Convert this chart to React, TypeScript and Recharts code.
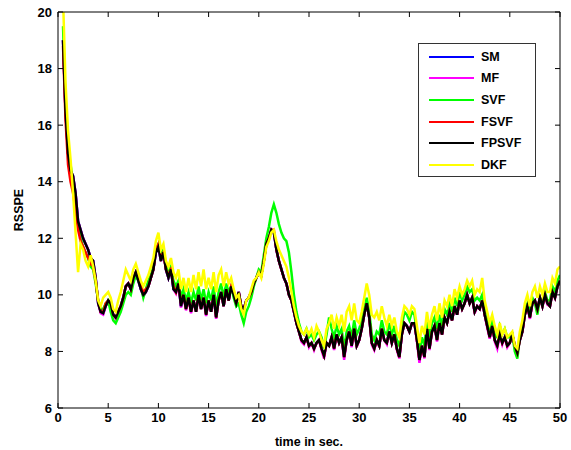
import { LineChart, Line, XAxis, YAxis, Legend } from "recharts";

// sampled every 0.25 s starting at t = 0.5
const FPSVF = [
  19.0, 16.5,
  15.0, 14.4, 14.2, 13.6,
  12.6, 12.3, 12.0, 11.8,
  11.6, 11.3, 11.2, 10.6,
  9.7, 9.4, 9.35, 9.6,
  9.8, 9.7, 9.3, 9.2,
  9.4, 9.6, 9.9, 10.3,
  10.4, 10.2, 10.6, 10.8,
  10.5, 10.2, 10.0, 10.1,
  10.3, 10.6, 10.9, 11.5,
  11.7, 11.2, 11.5, 10.9,
  10.6, 10.9, 10.2, 10.1,
  10.4, 9.6, 10.0, 9.5,
  9.9, 9.4, 9.8, 9.4,
  10.0, 9.5, 9.9, 9.3,
  9.8, 9.4, 10.0, 9.2,
  9.8, 10.1, 9.6, 10.2,
  9.8, 10.3, 10.0, 9.7,
  10.1, 9.6, 9.5, 9.8,
  9.9, 10.1, 10.4, 10.6,
  10.8, 10.7, 11.2, 11.8,
  12.0, 12.3, 12.2, 11.6,
  11.2, 10.9, 10.6, 10.4,
  10.0, 9.8, 9.4, 9.0,
  8.7, 8.4, 8.3, 8.5,
  8.2, 8.3, 8.1, 8.3,
  8.4, 8.1, 7.85, 8.3,
  8.2, 8.5, 8.1, 8.6,
  8.3, 8.5, 7.8, 8.4,
  8.7, 8.2, 8.8, 8.2,
  8.4, 8.8, 9.3, 9.7,
  9.2, 8.3, 8.1, 8.4,
  8.2, 8.8, 8.4, 8.3,
  8.7, 8.3, 8.6, 8.1,
  7.8, 8.6, 9.0, 8.9,
  8.7, 9.0, 9.0, 8.4,
  7.7, 8.2, 7.8, 8.8,
  8.1, 8.7, 8.9, 8.4,
  9.0, 8.6, 9.2, 9.0,
  9.4, 9.1, 9.6, 9.3,
  9.8, 9.5, 9.7, 10.0,
  9.7, 9.9, 9.4, 9.6,
  9.5, 9.8, 9.3, 8.9,
  8.5, 8.9, 8.4, 8.2,
  8.6, 8.3, 8.5, 8.2,
  8.3, 8.6, 8.2, 7.95,
  8.4, 8.7, 9.3, 9.6,
  9.2, 9.7, 9.8, 9.5,
  9.9, 9.6, 10.0, 9.7,
  9.6, 10.1, 9.9, 10.3,
  10.5,
];

const SM = [
  19.0, 16.5,
  15.0, 14.4, 14.2, 13.6,
  12.6, 12.3, 12.0, 11.8,
  11.6, 11.3, 11.2, 10.6,
  9.7, 9.4, 9.35, 9.6,
  9.8, 9.7, 9.3, 9.2,
  9.4, 9.6, 9.9, 10.3,
  10.4, 10.2, 10.6, 10.8,
  10.5, 10.2, 10.0, 10.1,
  10.3, 10.6, 10.9, 11.5,
  11.7, 11.2, 11.5, 10.9,
  10.6, 10.9, 10.2, 10.1,
  10.4, 9.6, 10.0, 9.5,
  9.9, 9.4, 9.8, 9.4,
  10.0, 9.5, 9.9, 9.3,
  9.8, 9.4, 10.0, 9.2,
  9.8, 10.1, 9.6, 10.2,
  9.8, 10.3, 10.0, 9.7,
  10.1, 9.6, 9.5, 9.8,
  9.9, 10.1, 10.4, 10.6,
  10.8, 10.7, 11.2, 11.8,
  12.0, 12.3, 12.2, 11.6,
  11.2, 10.9, 10.6, 10.4,
  10.0, 9.8, 9.4, 9.0,
  8.7, 8.4, 8.3, 8.5,
  8.2, 8.3, 8.1, 8.3,
  8.4, 8.1, 7.85, 8.3,
  8.2, 8.5, 8.1, 8.6,
  8.3, 8.5, 7.8, 8.4,
  8.7, 8.2, 8.8, 8.2,
  8.4, 8.8, 9.3, 9.7,
  9.2, 8.3, 8.1, 8.4,
  8.2, 8.8, 8.4, 8.3,
  8.7, 8.3, 8.6, 8.1,
  7.8, 8.6, 9.0, 8.9,
  8.7, 9.0, 9.0, 8.4,
  7.7, 8.2, 7.8, 8.8,
  8.1, 8.7, 8.9, 8.4,
  9.0, 8.6, 9.2, 9.0,
  9.4, 9.1, 9.6, 9.3,
  9.8, 9.5, 9.7, 10.0,
  9.7, 9.9, 9.4, 9.6,
  9.5, 9.8, 9.3, 8.9,
  8.5, 8.9, 8.4, 8.2,
  8.6, 8.3, 8.5, 8.2,
  8.3, 8.6, 8.2, 7.95,
  8.4, 8.7, 9.3, 9.6,
  9.2, 9.7, 9.8, 9.5,
  9.9, 9.6, 10.0, 9.7,
  9.6, 10.1, 9.9, 10.3,
  10.5,
];

const MF = [
  19.0, 16.5,
  15.0, 14.4, 14.2, 13.6,
  12.6, 12.3, 12.0, 11.8,
  11.6, 11.3, 11.2, 10.6,
  9.7, 9.35, 9.3, 9.6,
  9.8, 9.7, 9.3, 9.15,
  9.4, 9.6, 9.9, 10.3,
  10.4, 10.2, 10.6, 10.8,
  10.5, 10.2, 9.95, 10.1,
  10.3, 10.6, 10.9, 11.5,
  11.7, 11.2, 11.5, 10.9,
  10.6, 10.9, 10.2, 10.05,
  10.4, 9.55, 10.0, 9.45,
  9.9, 9.35, 9.8, 9.4,
  10.0, 9.5, 9.9, 9.25,
  9.8, 9.4, 10.0, 9.15,
  9.8, 10.1, 9.6, 10.2,
  9.8, 10.3, 10.0, 9.65,
  10.1, 9.6, 9.45, 9.8,
  9.9, 10.1, 10.4, 10.6,
  10.8, 10.7, 11.2, 11.8,
  12.0, 12.3, 12.2, 11.6,
  11.2, 10.9, 10.6, 10.4,
  10.0, 9.8, 9.4, 9.0,
  8.7, 8.35, 8.25, 8.5,
  8.15, 8.3, 8.05, 8.3,
  8.4, 8.05, 7.75, 8.3,
  8.2, 8.5, 8.05, 8.6,
  8.3, 8.5, 7.7, 8.4,
  8.7, 8.15, 8.8, 8.15,
  8.4, 8.8, 9.3, 9.7,
  9.2, 8.25, 8.05, 8.4,
  8.15, 8.8, 8.4, 8.25,
  8.7, 8.3, 8.6, 8.05,
  7.75, 8.6, 9.0, 8.9,
  8.7, 9.0, 9.0, 8.35,
  7.6, 8.2, 7.75, 8.8,
  8.05, 8.7, 8.9, 8.35,
  9.0, 8.6, 9.2, 9.0,
  9.4, 9.1, 9.6, 9.3,
  9.8, 9.5, 9.7, 10.0,
  9.7, 9.9, 9.35, 9.6,
  9.5, 9.8, 9.3, 8.85,
  8.45, 8.9, 8.35, 8.1,
  8.6, 8.25, 8.5, 8.15,
  8.3, 8.6, 8.15, 7.9,
  8.4, 8.7, 9.3, 9.6,
  9.15, 9.7, 9.8, 9.45,
  9.9, 9.6, 10.0, 9.65,
  9.6, 10.1, 9.9, 10.3,
  10.5,
];

const FSVF = [
  18.8, 16.2,
  14.6, 14.0, 13.6, 13.0,
  12.3, 11.9, 11.7, 11.5,
  11.3, 11.1, 11.0, 10.5,
  9.8, 9.4, 9.4, 9.7,
  9.8, 9.7, 9.3, 9.2,
  9.4, 9.6, 9.9, 10.3,
  10.4, 10.2, 10.6, 10.8,
  10.6, 10.3, 10.1, 10.2,
  10.3, 10.6, 10.9, 11.6,
  11.8, 11.3, 11.5, 10.9,
  10.7, 10.9, 10.3, 10.1,
  10.4, 9.7, 10.0, 9.5,
  9.9, 9.4, 9.8, 9.4,
  10.0, 9.5, 9.9, 9.3,
  9.8, 9.4, 10.0, 9.2,
  9.8, 10.1, 9.6, 10.2,
  9.8, 10.3, 10.1, 9.7,
  10.1, 9.6, 9.5, 9.8,
  9.9, 10.1, 10.4, 10.6,
  10.8, 10.7, 11.2, 11.8,
  12.0, 12.3, 12.3, 11.6,
  11.2, 10.9, 10.6, 10.4,
  10.0, 9.8, 9.4, 9.0,
  8.7, 8.4, 8.3, 8.5,
  8.2, 8.3, 8.1, 8.3,
  8.4, 8.1, 7.85, 8.3,
  8.2, 8.5, 8.1, 8.6,
  8.3, 8.5, 7.8, 8.4,
  8.7, 8.2, 8.8, 8.2,
  8.4, 8.8, 9.3, 9.7,
  9.2, 8.3, 8.1, 8.4,
  8.2, 8.8, 8.4, 8.3,
  8.7, 8.3, 8.6, 8.1,
  7.8, 8.6, 9.0, 8.9,
  8.7, 9.0, 9.0, 8.4,
  7.7, 8.2, 7.8, 8.8,
  8.1, 8.7, 8.9, 8.4,
  9.0, 8.6, 9.2, 9.0,
  9.4, 9.1, 9.6, 9.3,
  9.8, 9.5, 9.7, 10.0,
  9.7, 9.9, 9.4, 9.6,
  9.5, 9.8, 9.3, 8.9,
  8.5, 8.9, 8.4, 8.2,
  8.6, 8.3, 8.5, 8.2,
  8.3, 8.6, 8.2, 7.95,
  8.4, 8.7, 9.3, 9.6,
  9.2, 9.7, 9.8, 9.5,
  9.9, 9.6, 10.0, 9.7,
  9.6, 10.1, 9.9, 10.3,
  10.5,
];

const SVF = [
  19.5, 16.8,
  15.2, 14.6, 14.0, 13.2,
  12.5, 12.0, 11.7, 11.5,
  11.3, 11.0, 10.9, 10.4,
  9.8, 9.5, 9.5, 9.7,
  9.8, 9.4, 9.1, 9.0,
  9.2, 9.4, 9.7, 10.0,
  10.1, 10.0, 10.4, 10.7,
  10.5, 10.3, 9.9, 10.2,
  10.5, 10.7, 11.0, 11.6,
  11.8, 11.4, 11.6, 11.1,
  10.8, 11.0, 10.5, 10.3,
  10.5, 9.9, 10.2, 9.8,
  10.1, 9.7, 10.1, 9.8,
  10.3, 9.8, 10.2, 9.7,
  10.1, 9.8, 10.3, 9.6,
  10.1, 10.4, 9.9, 10.4,
  10.1, 10.3, 9.9, 9.6,
  9.7, 9.3, 9.0, 9.4,
  9.6, 9.9, 10.3, 10.6,
  10.9, 10.8, 11.4, 12.0,
  12.4, 12.9, 13.2, 12.9,
  12.5, 12.2, 12.0, 11.9,
  11.5, 10.8, 10.0, 9.4,
  9.0, 8.7, 8.6, 8.8,
  8.5, 8.6, 8.4, 8.6,
  8.7, 8.5, 8.1, 8.6,
  9.2, 8.8, 8.5, 8.9,
  8.6, 8.8, 8.1, 8.7,
  8.9, 8.5, 9.1, 8.6,
  8.8, 9.1, 9.5, 9.9,
  9.4, 8.6, 8.4, 8.7,
  8.6, 9.1, 8.7, 8.6,
  9.0, 8.6, 8.9, 8.4,
  8.2, 8.9, 9.4, 9.3,
  9.1, 9.4, 9.3, 8.7,
  8.0, 8.5, 8.2, 9.1,
  8.5, 9.0, 9.2, 8.8,
  9.3, 8.9, 9.5, 9.3,
  9.7, 9.4, 9.9, 9.6,
  10.1, 9.8, 10.0, 10.3,
  10.1, 10.2, 9.8, 9.9,
  9.8, 10.0, 9.5, 9.1,
  8.8, 9.1, 8.6, 8.5,
  8.9, 8.6, 8.8, 8.5,
  8.5, 8.6, 8.0, 7.75,
  8.5, 8.9, 9.5, 9.7,
  9.4, 9.9, 9.7, 9.3,
  9.9, 9.7, 10.1, 9.8,
  9.8, 10.3, 10.1, 10.5,
  10.7,
];

const DKF = [
  20.5, 17.5,
  15.8, 14.8, 13.6, 12.2,
  10.8, 11.8, 11.6, 11.2,
  11.0, 11.4, 11.0, 10.5,
  9.8, 9.6, 9.9, 10.0,
  10.1, 9.9, 9.5, 9.4,
  9.8, 10.1, 10.5, 10.9,
  10.7, 10.5, 10.9, 11.1,
  10.8, 10.5, 10.3, 10.5,
  10.7, 11.0, 11.3, 11.9,
  12.2, 11.6, 11.8, 11.2,
  11.0, 11.3, 10.8, 10.6,
  10.9, 10.2, 10.6, 10.1,
  10.6, 10.1, 10.7, 10.2,
  10.8, 10.3, 10.9, 10.2,
  10.6, 10.2, 10.8, 10.1,
  10.7, 10.9, 10.3, 10.8,
  10.4, 10.6, 10.2, 9.9,
  10.0, 9.5, 9.3, 9.8,
  9.9, 10.2, 10.5, 10.6,
  10.8, 10.6, 11.1, 11.7,
  11.9, 12.2, 12.3, 11.9,
  11.6, 11.4, 11.2, 11.0,
  10.6, 10.1, 9.6, 9.2,
  8.9, 8.7, 8.6, 8.8,
  8.6, 8.8, 8.5, 8.9,
  8.7, 8.4, 8.2, 8.8,
  9.0, 9.3, 8.8, 9.2,
  8.9, 9.3, 8.7, 9.4,
  9.6, 9.1, 9.7, 9.1,
  9.0, 9.4, 9.9, 10.4,
  10.0, 9.3, 9.2, 9.4,
  9.1, 9.6, 9.2, 8.9,
  9.3, 8.9, 9.2, 8.7,
  8.5, 9.2, 9.6, 9.5,
  9.3, 9.6, 9.5, 8.9,
  8.3, 8.9, 8.6, 9.4,
  8.8, 9.3, 9.6, 9.1,
  9.7, 9.2, 9.8, 9.6,
  10.0, 9.6, 10.2, 9.9,
  10.3, 10.0, 10.2, 10.5,
  10.3, 10.5, 10.0, 10.2,
  10.1, 10.6, 9.8, 9.4,
  9.0, 9.3, 8.9, 8.6,
  9.0, 8.6, 8.8, 8.5,
  8.6, 8.7, 8.2, 8.1,
  8.7, 9.1, 9.7, 10.0,
  9.6, 10.1, 10.3, 9.9,
  10.3, 10.0, 10.4, 10.1,
  10.1, 10.6, 10.4, 10.9,
  11.0,
];

const xTicks = [0, 5, 10, 15, 20, 25, 30, 35, 40, 45, 50];
const yTicks = [6, 8, 10, 12, 14, 16, 18, 20];

const series = [
  { key: "SM", color: "#0000ff", values: SM },
  { key: "MF", color: "#ff00ff", values: MF },
  { key: "SVF", color: "#00ff00", values: SVF },
  { key: "FSVF", color: "#ff0000", values: FSVF },
  { key: "FPSVF", color: "#000000", values: FPSVF },
  { key: "DKF", color: "#ffff00", values: DKF },
];

const data = FPSVF.map((_, i) => {
  const row: Record<string, number> = { t: 0.5 + i * 0.25 };
  series.forEach((s) => (row[s.key] = s.values[i]));
  return row;
});

const font = { fontFamily: "Liberation Sans, Arial, sans-serif", fontWeight: 700 };
const tickStyle = { ...font, fontSize: 13, fill: "#000" };
const emptyTick = () => <g />;

function LegendBox() {
  return (
    <div
      style={{
        border: "1px solid #333",
        background: "#fff",
        width: 118,
        height: 134,
        boxSizing: "border-box",
        paddingTop: 2,
      }}
    >
      {series.map((s) => (
        <div key={s.key} style={{ display: "flex", alignItems: "center", height: 21.6 }}>
          <svg width={56} height={4} style={{ flex: "none" }}>
            <line x1={10} x2={55} y1={2} y2={2} stroke={s.color} strokeWidth={2} />
          </svg>
          <span style={{ ...font, fontSize: 12.5, marginLeft: 6, color: "#000" }}>{s.key}</span>
        </div>
      ))}
    </div>
  );
}

export default function App() {
  return (
    <div style={{ position: "absolute", left: 0, top: 0, width: 571, height: 450, background: "#fff" }}>
      <LineChart width={571} height={450} data={data} margin={{ top: 0, right: 0, left: 0, bottom: 0 }}>
        <XAxis
          dataKey="t"
          type="number"
          domain={[0, 50]}
          ticks={xTicks}
          allowDataOverflow
          height={42}
          stroke="#000"
          tickSize={-5}
          tickMargin={10}
          tick={tickStyle}
          label={{ value: "time in sec.", position: "insideBottom", offset: 4, style: { ...font, fontSize: 12.5, fill: "#000" } }}
        />
        <XAxis
          xAxisId="top"
          orientation="top"
          type="number"
          dataKey="t"
          domain={[0, 50]}
          ticks={xTicks}
          allowDataOverflow
          height={12}
          stroke="#000"
          tickSize={-5}
          tick={emptyTick}
        />
        <YAxis
          type="number"
          domain={[6, 20]}
          ticks={yTicks}
          allowDataOverflow
          width={58}
          stroke="#000"
          tickSize={-5}
          tickMargin={11}
          tick={tickStyle}
          label={{ value: "RSSPE", angle: -90, position: "insideLeft", offset: 19, style: { ...font, fontSize: 12.5, fill: "#000", textAnchor: "middle" } }}
        />
        <YAxis
          yAxisId="right"
          orientation="right"
          type="number"
          domain={[6, 20]}
          ticks={yTicks}
          allowDataOverflow
          width={11}
          stroke="#000"
          tickSize={-5}
          tick={emptyTick}
        />
        <Legend
          layout="vertical"
          align="center"
          verticalAlign="middle"
          content={<LegendBox />}
          wrapperStyle={{ left: 418, top: 43, width: 118, height: 134 }}
        />
        {series.map((s) => (
          <Line
            key={s.key}
            dataKey={s.key}
            stroke={s.color}
            strokeWidth={2.5}
            dot={false}
            type="linear"
            isAnimationActive={false}
          />
        ))}
      </LineChart>
    </div>
  );
}
